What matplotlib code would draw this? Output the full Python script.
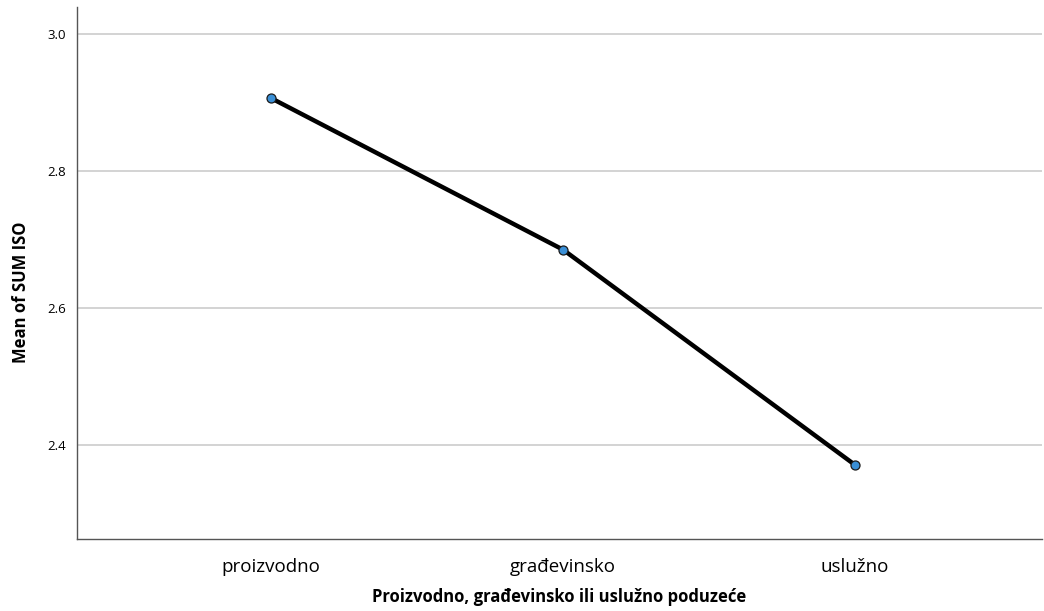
import matplotlib.pyplot as plt

categories = ['proizvodno', 'građevinsko', 'uslužno']
means = [2.906, 2.685, 2.371]
yticks = [2.4, 2.6, 2.8, 3.0]

plt.rcParams['font.family'] = ['Open Sans', 'DejaVu Sans']

fig = plt.figure(figsize=(10.44, 6.11), dpi=100)
ax = fig.add_axes([0.0738, 0.1178, 0.9242, 0.8707])

x = list(range(len(categories)))
ax.plot(x, means, color='black', linewidth=3.2, zorder=3)
ax.plot(x, means, linestyle='none', marker='o', markersize=6.5,
        markerfacecolor='#3a8fd6', markeredgecolor='#1a1a1a', markeredgewidth=0.9, zorder=4)

ax.set_xlim(-0.665, 2.64)
ax.set_ylim(2.263, 3.039)
ax.set_xticks(x)
ax.set_xticklabels(categories, fontsize=13.5)
ax.set_yticks(yticks)
ax.set_yticklabels([f'{v:.1f}' for v in yticks], fontsize=9.5)
ax.tick_params(length=0, pad=8)
ax.tick_params(axis='x', pad=14)

ax.grid(axis='y', color='#c8c8c8', linewidth=1.1)
ax.set_axisbelow(True)
for s in ['top', 'right']:
    ax.spines[s].set_visible(False)
for s in ['left', 'bottom']:
    ax.spines[s].set_color('#555555')
    ax.spines[s].set_linewidth(1.0)

ax.set_xlabel('Proizvodno, građevinsko ili uslužno poduzeće', fontsize=12, fontweight='bold')
ax.xaxis.set_label_coords(0.5, -0.092)
ax.set_ylabel('Mean of SUM ISO', fontsize=12, fontweight='bold')
ax.yaxis.set_label_coords(-0.049, 0.464)

fig.savefig('out.png', dpi=100)
